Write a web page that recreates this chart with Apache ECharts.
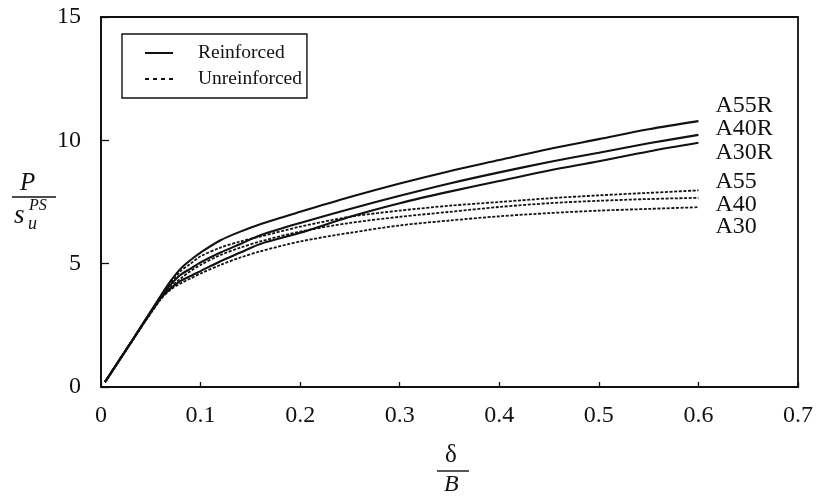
<!DOCTYPE html>
<html><head><meta charset="utf-8">
<script src="https://cdn.jsdelivr.net/npm/echarts@6/dist/echarts.min.js"></script>
<style>html,body{margin:0;padding:0;background:#fff}#c{width:816px;height:501px}</style>
</head><body><div id="c"></div>
<script>
// delta/B values
var xs = [0.004, 0.03, 0.06, 0.07, 0.08, 0.09, 0.1, 0.12, 0.14, 0.16, 0.2, 0.25, 0.3, 0.35, 0.4, 0.45, 0.5, 0.55, 0.6];
// P / s_u^PS
var A55R = [0.2, 1.8, 3.7, 4.3, 4.8, 5.15, 5.45, 5.95, 6.3, 6.6, 7.1, 7.7, 8.25, 8.75, 9.2, 9.65, 10.05, 10.45, 10.78];
var A40R = [0.2, 1.8, 3.65, 4.15, 4.55, 4.8, 5.05, 5.45, 5.8, 6.15, 6.65, 7.22, 7.75, 8.25, 8.7, 9.12, 9.5, 9.88, 10.22];
var A30R = [0.2, 1.8, 3.6, 4.0, 4.3, 4.5, 4.7, 5.1, 5.45, 5.8, 6.25, 6.9, 7.45, 7.92, 8.35, 8.78, 9.15, 9.55, 9.9];
var A55  = [0.2, 1.8, 3.65, 4.2, 4.7, 5.0, 5.3, 5.65, 5.9, 6.1, 6.5, 6.9, 7.15, 7.35, 7.5, 7.65, 7.77, 7.87, 7.97];
var A40  = [0.2, 1.8, 3.6, 4.05, 4.4, 4.7, 4.95, 5.35, 5.65, 5.9, 6.3, 6.65, 6.9, 7.1, 7.3, 7.45, 7.55, 7.62, 7.67];
var A30  = [0.2, 1.8, 3.55, 3.95, 4.2, 4.4, 4.6, 4.95, 5.25, 5.5, 5.9, 6.25, 6.55, 6.75, 6.92, 7.05, 7.15, 7.22, 7.29];
var xTicks = [0, 0.1, 0.2, 0.3, 0.4, 0.5, 0.6, 0.7];
var yTicks = [0, 5, 10, 15];
var curveNames = ['A55R', 'A40R', 'A30R', 'A55', 'A40', 'A30'];
var legendNames = ['Reinforced', 'Unreinforced'];

var FONT = '"Liberation Serif", "DejaVu Serif", serif';
function pairs(ys){ return xs.map(function(x,i){ return [x, ys[i]]; }); }
var sets = [A55R, A40R, A30R, A55, A40, A30];
var labelDy = [-15, -6, 10, -9, 7, 20];
var series = sets.map(function(ys, i){
  var reinforced = i < 3;
  return {
    type: 'line', name: reinforced ? legendNames[0] : legendNames[1],
    data: pairs(ys), symbol: 'none', smooth: 0.3, silent: true,
    itemStyle: { color: '#111' },
    lineStyle: { color: '#111', width: reinforced ? 2.1 : 1.8, type: reinforced ? 'solid' : [3, 1.6] },
    endLabel: { show: true, formatter: curveNames[i], distance: 17, offset: [0, labelDy[i]],
      color: '#111', fontFamily: FONT, fontSize: 24 },
    animation: false
  };
});

var chart = echarts.init(document.getElementById('c'), null, {renderer: 'canvas'});
chart.setOption({
  backgroundColor: '#fff',
  animation: false,
  grid: { left: 101, top: 17, width: 703, height: 370, show: true, borderColor: '#111', borderWidth: 1.8, backgroundColor: 'transparent' },
  legend: {
    data: [
      { name: legendNames[0], icon: 'path://M0,0H28V2H0Z' },
      { name: legendNames[1], icon: 'path://M0,0H4V2H0Z M8,0H12V2H8Z M16,0H20V2H16Z M24,0H28V2H24Z' }
    ],
    orient: 'vertical', left: 122, top: 34,
    borderColor: '#111', borderWidth: 1.4, padding: [9, 5, 9, 23],
    itemWidth: 28, itemHeight: 2, itemGap: 6, selectedMode: false,
    itemStyle: { color: '#111' },
    textStyle: { color: '#111', fontFamily: FONT, fontSize: 19.5, lineHeight: 20, padding: [0, 0, 0, 20] }
  },
  xAxis: {
    type: 'value', min: 0, max: 0.7, interval: 0.1,
    axisLine: { show: true, lineStyle: { color: '#111', width: 1.8 } },
    axisTick: { show: true, inside: true, length: 5, lineStyle: { color: '#111', width: 1.3 } },
    splitLine: { show: false },
    axisLabel: { color: '#111', fontFamily: FONT, fontSize: 24, margin: 17,
      formatter: function(v){ var t = xTicks.filter(function(k){ return Math.abs(k - v) < 1e-9; })[0]; return t === 0 ? '0' : t.toFixed(1); } }
  },
  yAxis: {
    type: 'value', min: 0, max: 15, interval: 5,
    axisLine: { show: true, lineStyle: { color: '#111', width: 1.8 } },
    axisTick: { show: true, inside: true, length: 8, lineStyle: { color: '#111', width: 1.3 } },
    splitLine: { show: false },
    axisLabel: { color: '#111', fontFamily: FONT, fontSize: 24, margin: 20,
      formatter: function(v){ return String(yTicks.filter(function(k){ return k === v; })[0]); } }
  },
  graphic: [
    { type: 'text', left: 20, top: 171, style: { text: 'P', font: 'italic 25px ' + FONT, fill: '#111' } },
    { type: 'line', shape: { x1: 12, y1: 197, x2: 56, y2: 197 }, style: { stroke: '#111', lineWidth: 1.4 } },
    { type: 'text', left: 14, top: 202, style: { text: 's', font: 'italic 27px ' + FONT, fill: '#111' } },
    { type: 'text', left: 28, top: 215, style: { text: 'u', font: 'italic 18px ' + FONT, fill: '#111' } },
    { type: 'text', left: 29, top: 198, style: { text: 'PS', font: 'italic 16px ' + FONT, fill: '#111' } },
    { type: 'text', left: 445, top: 443, style: { text: 'δ', font: '25px ' + FONT, fill: '#111' } },
    { type: 'line', shape: { x1: 437, y1: 471, x2: 469, y2: 471 }, style: { stroke: '#111', lineWidth: 1.4 } },
    { type: 'text', left: 444, top: 473, style: { text: 'B', font: 'italic 24px ' + FONT, fill: '#111' } }
  ],
  series: series
});
</script>
</body></html>
